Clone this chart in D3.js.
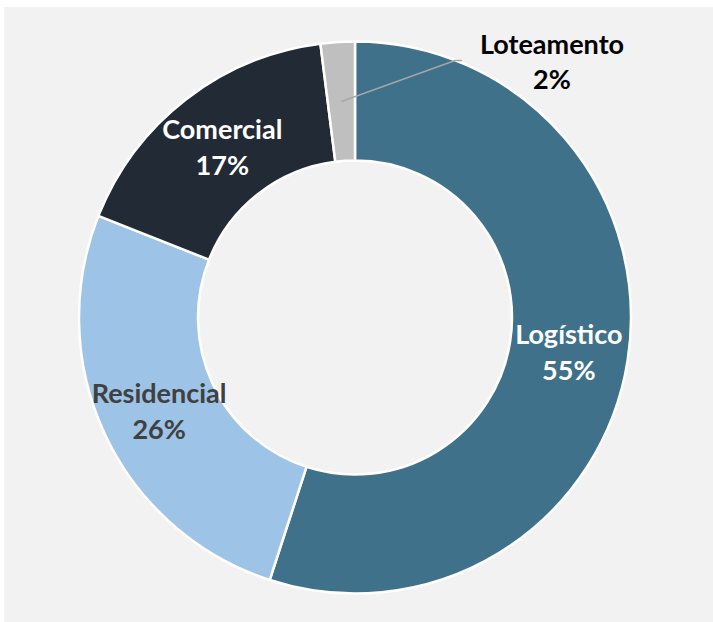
<!DOCTYPE html>
<html>
<head>
<meta charset="utf-8">
<script src="https://cdn.jsdelivr.net/npm/d3@7"></script>
<style>
  body { margin: 0; background: #ffffff; }
  svg { display: block; }
  text { font-family: Lato, "Open Sans", sans-serif; font-weight: bold; }
</style>
</head>
<body>
<div id="chart"></div>
<script>
// data
const categories = ["Logístico", "Residencial", "Comercial", "Loteamento"];
const shares = [55, 26, 17, 2];
const sliceColors = ["#40718b", "#9dc3e6", "#222a35", "#bfbfbf"];
const labelColors = ["#ffffff", "#404040", "#ffffff", "#000000"];

const width = 713, height = 622;
const cx = 355, cy = 317.5;
const outerR = 276, innerR = 157;

const svg = d3.select("#chart").append("svg")
    .attr("width", width)
    .attr("height", height);

// plot area background
svg.append("rect")
    .attr("x", 4).attr("y", 7)
    .attr("width", width - 4).attr("height", height - 7)
    .attr("fill", "#f2f2f2");

const data = categories.map(function(c, i) {
    return { name: c, value: shares[i], color: sliceColors[i], labelColor: labelColors[i] };
});

const pie = d3.pie()
    .sort(null)
    .value(function(d) { return d.value; });

const arc = d3.arc()
    .innerRadius(innerR)
    .outerRadius(outerR);

const g = svg.append("g")
    .attr("transform", "translate(" + cx + "," + cy + ")");

const arcs = pie(data);

g.selectAll("path.slice")
    .data(arcs)
    .enter().append("path")
    .attr("class", "slice")
    .attr("d", arc)
    .attr("fill", function(d) { return d.data.color; })
    .attr("stroke", "#ffffff")
    .attr("stroke-width", 2.5);

// labels inside the ring (all but the small one)
const inside = arcs.filter(function(d) { return d.data.value > 5; });
const outside = arcs.filter(function(d) { return d.data.value <= 5; });

const lab = g.selectAll("text.inlabel")
    .data(inside)
    .enter().append("text")
    .attr("class", "inlabel")
    .attr("text-anchor", "middle")
    .attr("font-size", "27px")
    .attr("fill", function(d) { return d.data.labelColor; })
    .attr("transform", function(d) {
        const c = arc.centroid(d);
        return "translate(" + c[0] + "," + c[1] + ")";
    });

lab.append("tspan").attr("x", 0).attr("y", -7)
    .text(function(d) { return d.data.name; });
lab.append("tspan").attr("x", 0).attr("y", 29)
    .text(function(d) { return d.data.value + "%"; });

// small slice: label outside with a leader line
const labelPos = [197, -256];
outside.forEach(function(d) {
    const c = arc.centroid(d);
    g.append("polyline")
        .attr("points", [c, [labelPos[0] - 97, labelPos[1] - 1], [labelPos[0] - 90, labelPos[1] - 1]]
            .map(function(p) { return p.join(","); }).join(" "))
        .attr("fill", "none")
        .attr("stroke", "#a6a6a6")
        .attr("stroke-width", 1.5);

    const t = g.append("text")
        .attr("text-anchor", "middle")
        .attr("font-size", "27px")
        .attr("fill", d.data.labelColor)
        .attr("transform", "translate(" + labelPos[0] + "," + labelPos[1] + ")");
    t.append("tspan").attr("x", 0).attr("y", -8).text(d.data.name);
    t.append("tspan").attr("x", 0).attr("y", 27).text(d.data.value + "%");
});
</script>
</body>
</html>
